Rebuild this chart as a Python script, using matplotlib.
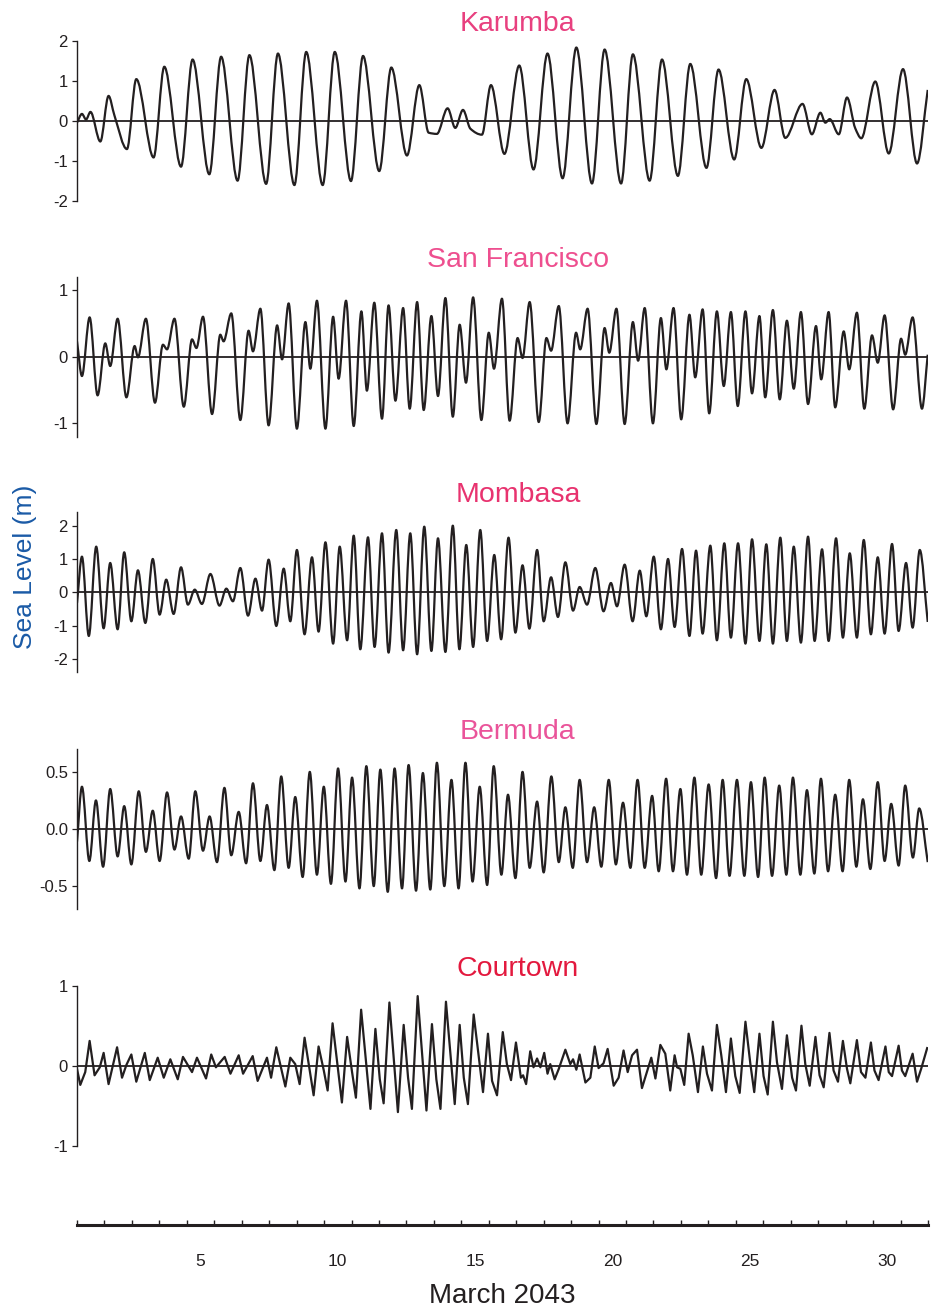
import numpy as np
import matplotlib
matplotlib.use("Agg")
import matplotlib.pyplot as plt
from matplotlib.path import Path
from matplotlib.patches import PathPatch

plt.rcParams['font.family'] = ['Liberation Sans', 'DejaVu Sans']

# ---------------- data (time in days since 1 March 2043 00:00, height in m) ----------------
stations = ["Karumba", "San Francisco", "Mombasa", "Bermuda", "Courtown"]
title_colors = ["#e8407f", "#ee4f8f", "#e8336f", "#ea549a", "#e3193e"]

karumba_t = [0.00, 0.18, 0.33, 0.49, 0.85, 1.15, 1.36, 1.82, 2.16, 2.79,
             3.18, 3.79, 4.21, 4.82, 5.25, 5.85, 6.28, 6.89, 7.32, 7.92,
             8.35, 8.95, 9.39, 9.98, 10.42, 11.01, 11.45, 12.02, 12.47, 12.81,
             13.11, 13.50, 13.78, 14.06, 14.33, 14.75, 15.08, 15.57, 16.11, 16.63,
             17.14, 17.69, 18.19, 18.76, 19.22, 19.82, 20.25, 20.86, 21.31, 21.89,
             22.34, 22.93, 23.37, 23.94, 24.38, 24.93, 25.41, 25.80, 26.43, 26.77,
             27.08, 27.26, 27.42, 27.75, 28.05, 28.35, 28.57, 29.08, 29.57, 30.09,
             30.60, 30.99]
karumba_h = [-0.05, 0.17, 0.03, 0.22, -0.52, 0.62, 0.14, -0.71, 1.04, -0.92,
             1.35, -1.15, 1.53, -1.34, 1.60, -1.50, 1.64, -1.58, 1.68, -1.61,
             1.72, -1.61, 1.72, -1.51, 1.62, -1.26, 1.33, -0.87, 0.89, -0.30,
             -0.33, 0.31, -0.18, 0.27, -0.20, -0.35, 0.89, -0.83, 1.38, -1.22,
             1.68, -1.44, 1.83, -1.57, 1.78, -1.57, 1.66, -1.50, 1.53, -1.38,
             1.42, -1.18, 1.28, -0.97, 1.04, -0.68, 0.77, -0.43, 0.42, -0.34,
             0.20, -0.05, 0.04, -0.34, 0.58, -0.19, -0.44, 0.98, -0.82, 1.29,
             -1.07, 0.77]

sf_t = [0.00, 0.18, 0.46, 0.75, 1.03, 1.21, 1.48, 1.80, 2.10, 2.22,
        2.51, 2.84, 3.13, 3.28, 3.55, 3.89, 4.19, 4.35, 4.59, 4.92,
        5.22, 5.34, 5.62, 5.95, 6.25, 6.41, 6.68, 6.98, 7.29, 7.47,
        7.71, 8.01, 8.32, 8.50, 8.74, 9.05, 9.33, 9.53, 9.80, 10.08,
        10.36, 10.56, 10.83, 11.11, 11.35, 11.60, 11.88, 12.12, 12.39, 12.63,
        12.91, 13.15, 13.42, 13.69, 13.94, 14.17, 14.43, 14.73, 15.00, 15.19,
        15.48, 15.76, 16.05, 16.23, 16.49, 16.82, 17.10, 17.27, 17.55, 17.87,
        18.18, 18.33, 18.60, 18.92, 19.22, 19.39, 19.65, 19.95, 20.25, 20.44,
        20.68, 20.98, 21.27, 21.47, 21.73, 22.01, 22.31, 22.52, 22.79, 23.03,
        23.31, 23.56, 23.82, 24.07, 24.35, 24.59, 24.86, 25.07, 25.35, 25.60,
        25.86, 26.11, 26.37, 26.63, 26.92, 27.11, 27.38, 27.62, 27.93, 28.13,
        28.41, 28.68, 28.96, 29.17, 29.42, 29.73, 30.02, 30.17, 30.44, 30.78,
        30.99]
sf_h = [0.23, -0.29, 0.59, -0.58, 0.20, -0.14, 0.57, -0.61, 0.16, -0.01,
        0.57, -0.69, 0.18, 0.11, 0.57, -0.75, 0.26, 0.13, 0.60, -0.86,
        0.33, 0.23, 0.65, -0.95, 0.39, 0.08, 0.72, -1.03, 0.47, -0.04,
        0.80, -1.08, 0.52, -0.18, 0.84, -1.08, 0.60, -0.33, 0.84, -1.04,
        0.68, -0.51, 0.81, -0.93, 0.77, -0.66, 0.73, -0.78, 0.82, -0.80,
        0.61, -0.59, 0.88, -0.90, 0.48, -0.39, 0.89, -0.95, 0.36, -0.18,
        0.87, -0.96, 0.28, -0.02, 0.82, -0.98, 0.28, 0.09, 0.76, -1.00,
        0.36, 0.11, 0.72, -1.01, 0.43, 0.06, 0.72, -1.01, 0.52, -0.06,
        0.73, -1.00, 0.58, -0.19, 0.73, -0.94, 0.63, -0.31, 0.71, -0.85,
        0.68, -0.44, 0.67, -0.74, 0.68, -0.55, 0.61, -0.61, 0.70, -0.64,
        0.54, -0.48, 0.67, -0.71, 0.46, -0.34, 0.67, -0.76, 0.38, -0.19,
        0.66, -0.78, 0.32, -0.09, 0.62, -0.79, 0.27, 0.03, 0.59, -0.78,
        0.03]

mombasa_t = [0.00, 0.18, 0.43, 0.70, 0.97, 1.21, 1.48, 1.72, 1.98, 2.22,
             2.49, 2.76, 3.01, 3.25, 3.52, 3.79, 4.04, 4.29, 4.55, 4.86,
             5.19, 5.44, 5.68, 5.95, 6.23, 6.50, 6.74, 6.98, 7.26, 7.53,
             7.77, 8.01, 8.29, 8.56, 8.80, 9.05, 9.33, 9.57, 9.84, 10.08,
             10.32, 10.60, 10.84, 11.11, 11.35, 11.63, 11.88, 12.14, 12.39, 12.65,
             12.91, 13.15, 13.42, 13.69, 13.93, 14.18, 14.43, 14.69, 14.94, 15.20,
             15.45, 15.72, 15.97, 16.23, 16.48, 16.76, 17.00, 17.27, 17.52, 17.79,
             18.07, 18.31, 18.58, 18.88, 19.18, 19.45, 19.67, 19.95, 20.24, 20.50,
             20.74, 21.01, 21.27, 21.53, 21.77, 22.04, 22.31, 22.55, 22.79, 23.07,
             23.31, 23.58, 23.82, 24.08, 24.35, 24.59, 24.86, 25.11, 25.35, 25.62,
             25.86, 26.11, 26.37, 26.63, 26.87, 27.14, 27.38, 27.65, 27.90, 28.15,
             28.41, 28.66, 28.92, 29.17, 29.42, 29.69, 29.93, 30.20, 30.44, 30.70,
             30.99]
mombasa_h = [-0.32, 1.07, -1.31, 1.37, -1.08, 0.88, -1.11, 1.20, -0.87, 0.66,
             -0.92, 1.00, -0.67, 0.38, -0.65, 0.75, -0.37, 0.08, -0.35, 0.55,
             -0.40, 0.11, -0.27, 0.73, -0.70, 0.41, -0.55, 0.98, -1.01, 0.71,
             -0.87, 1.27, -1.26, 1.05, -1.18, 1.50, -1.54, 1.37, -1.44, 1.70,
             -1.71, 1.65, -1.64, 1.77, -1.81, 1.87, -1.74, 1.77, -1.86, 1.97,
             -1.76, 1.62, -1.79, 2.00, -1.71, 1.42, -1.64, 1.87, -1.46, 1.12,
             -1.41, 1.64, -1.21, 0.81, -1.09, 1.27, -0.87, 0.45, -0.74, 0.90,
             -0.55, 0.16, -0.37, 0.73, -0.57, 0.28, -0.42, 0.83, -0.87, 0.65,
             -0.72, 1.07, -1.11, 1.00, -1.04, 1.30, -1.31, 1.25, -1.24, 1.40,
             -1.44, 1.47, -1.36, 1.47, -1.54, 1.59, -1.46, 1.44, -1.54, 1.64,
             -1.46, 1.37, -1.51, 1.67, -1.46, 1.29, -1.46, 1.62, -1.36, 1.17,
             -1.36, 1.57, -1.26, 1.05, -1.24, 1.45, -1.16, 0.88, -1.06, 1.27,
             -0.89]

bermuda_t = [0.00, 0.18, 0.45, 0.69, 0.95, 1.21, 1.48, 1.72, 1.98, 2.25,
             2.51, 2.76, 3.01, 3.28, 3.55, 3.79, 4.07, 4.31, 4.59, 4.83,
             5.10, 5.37, 5.62, 5.89, 6.16, 6.41, 6.68, 6.92, 7.19, 7.44,
             7.71, 7.95, 8.22, 8.48, 8.74, 8.99, 9.25, 9.51, 9.78, 10.02,
             10.29, 10.54, 10.81, 11.05, 11.32, 11.57, 11.84, 12.08, 12.35, 12.60,
             12.87, 13.11, 13.38, 13.64, 13.90, 14.15, 14.41, 14.67, 14.94, 15.18,
             15.46, 15.70, 15.97, 16.23, 16.49, 16.76, 17.00, 17.28, 17.55, 17.79,
             18.06, 18.31, 18.58, 18.84, 19.10, 19.37, 19.63, 19.89, 20.16, 20.42,
             20.68, 20.95, 21.19, 21.46, 21.71, 21.98, 22.22, 22.49, 22.74, 23.01,
             23.28, 23.52, 23.77, 24.04, 24.31, 24.55, 24.81, 25.05, 25.32, 25.58,
             25.84, 26.08, 26.35, 26.59, 26.86, 27.10, 27.36, 27.62, 27.89, 28.13,
             28.39, 28.63, 28.90, 29.17, 29.42, 29.66, 29.93, 30.17, 30.45, 30.68,
             30.99]
bermuda_h = [-0.11, 0.37, -0.28, 0.25, -0.33, 0.35, -0.24, 0.20, -0.31, 0.33,
             -0.20, 0.16, -0.28, 0.32, -0.18, 0.11, -0.26, 0.33, -0.19, 0.11,
             -0.29, 0.36, -0.23, 0.15, -0.30, 0.40, -0.28, 0.21, -0.36, 0.46,
             -0.34, 0.28, -0.42, 0.50, -0.40, 0.37, -0.48, 0.53, -0.46, 0.45,
             -0.52, 0.55, -0.50, 0.52, -0.55, 0.53, -0.52, 0.56, -0.54, 0.49,
             -0.53, 0.58, -0.50, 0.43, -0.52, 0.58, -0.46, 0.37, -0.49, 0.55,
             -0.40, 0.30, -0.43, 0.50, -0.34, 0.24, -0.38, 0.46, -0.29, 0.19,
             -0.34, 0.43, -0.29, 0.19, -0.33, 0.43, -0.31, 0.23, -0.34, 0.43,
             -0.34, 0.29, -0.37, 0.44, -0.37, 0.35, -0.40, 0.45, -0.40, 0.39,
             -0.43, 0.43, -0.41, 0.43, -0.41, 0.41, -0.42, 0.45, -0.41, 0.38,
             -0.40, 0.45, -0.40, 0.34, -0.39, 0.44, -0.37, 0.30, -0.37, 0.43,
             -0.33, 0.26, -0.35, 0.41, -0.28, 0.22, -0.32, 0.38, -0.25, 0.18,
             -0.29]

courtown_t = [0.00, 0.12, 0.30, 0.46, 0.64, 0.83, 0.97, 1.15, 1.46, 1.64,
              1.80, 1.98, 2.16, 2.47, 2.65, 2.94, 3.16, 3.40, 3.67, 3.86,
              4.19, 4.37, 4.70, 4.89, 5.06, 5.38, 5.59, 5.89, 6.05, 6.40,
              6.58, 6.92, 7.07, 7.26, 7.59, 7.77, 7.95, 8.11, 8.29, 8.62,
              8.80, 8.99, 9.13, 9.31, 9.65, 9.84, 10.02, 10.16, 10.35, 10.69,
              10.87, 11.03, 11.17, 11.38, 11.69, 11.90, 12.06, 12.20, 12.41, 12.73,
              12.93, 13.09, 13.24, 13.44, 13.76, 13.94, 14.09, 14.24, 14.45, 14.79,
              14.97, 15.12, 15.30, 15.51, 15.66, 15.81, 15.99, 16.17, 16.25, 16.36,
              16.51, 16.63, 16.76, 16.88, 17.02, 17.14, 17.24, 17.40, 17.55, 17.79,
              17.97, 18.07, 18.19, 18.31, 18.52, 18.70, 18.86, 19.00, 19.18, 19.33,
              19.55, 19.73, 19.91, 20.06, 20.22, 20.40, 20.58, 20.92, 21.07, 21.25,
              21.43, 21.61, 21.77, 21.86, 21.98, 22.12, 22.28, 22.43, 22.62, 22.80,
              22.95, 23.13, 23.31, 23.47, 23.64, 23.82, 23.98, 24.14, 24.35, 24.53,
              24.67, 24.86, 25.01, 25.16, 25.35, 25.50, 25.68, 25.86, 26.05, 26.19,
              26.39, 26.53, 26.69, 26.90, 27.05, 27.20, 27.41, 27.56, 27.72, 27.90,
              28.05, 28.17, 28.41, 28.56, 28.72, 28.92, 29.05, 29.20, 29.45, 29.57,
              29.69, 29.93, 30.05, 30.17, 30.44, 30.60, 30.75, 30.97]
courtown_h = [-0.04, -0.24, -0.08, 0.31, -0.12, -0.02, 0.16, -0.23, 0.23, -0.15,
              0.01, 0.14, -0.20, 0.16, -0.18, 0.10, -0.15, 0.08, -0.17, 0.11,
              -0.08, 0.10, -0.16, 0.14, -0.02, 0.11, -0.10, 0.13, -0.10, 0.12,
              -0.19, 0.10, -0.15, 0.23, -0.26, 0.10, 0.02, -0.23, 0.35, -0.37,
              0.24, -0.06, -0.31, 0.53, -0.46, 0.36, -0.08, -0.40, 0.70, -0.54,
              0.46, -0.17, -0.47, 0.79, -0.58, 0.51, -0.15, -0.54, 0.87, -0.56,
              0.52, -0.17, -0.54, 0.80, -0.48, 0.51, -0.15, -0.48, 0.64, -0.33,
              0.40, -0.19, -0.37, 0.42, 0.02, -0.18, 0.29, -0.15, -0.12, -0.23,
              0.18, -0.02, 0.09, -0.02, 0.16, -0.10, 0.02, -0.17, -0.04, 0.20,
              0.02, 0.08, -0.05, 0.14, -0.21, -0.15, 0.24, -0.03, 0.03, 0.21,
              -0.25, -0.15, 0.19, -0.08, 0.13, 0.20, -0.28, 0.10, -0.16, 0.26,
              0.15, -0.31, 0.13, -0.02, -0.04, -0.24, 0.40, 0.13, -0.33, 0.24,
              -0.10, -0.31, 0.51, 0.13, -0.33, 0.34, -0.13, -0.34, 0.55, 0.02,
              -0.33, 0.40, -0.13, -0.36, 0.55, 0.04, -0.29, 0.38, -0.15, -0.31,
              0.50, 0.02, -0.25, 0.36, -0.12, -0.27, 0.41, -0.06, -0.20, 0.31,
              -0.04, -0.22, 0.32, -0.08, -0.15, 0.29, -0.06, -0.18, 0.24, -0.08,
              -0.13, 0.25, -0.06, -0.13, 0.15, -0.20, -0.04, 0.22]

series_t = [karumba_t, sf_t, mombasa_t, bermuda_t, courtown_t]
series_h = [karumba_h, sf_h, mombasa_h, bermuda_h, courtown_h]
smooth = [True, True, True, True, False]
ylims = [2.0, 1.2, 2.4, 0.7, 1.0]
yticks = [[-2, -1, 0, 1, 2], [-1, 0, 1], [-2, -1, 0, 1, 2], [-0.5, 0.0, 0.5], [-1, 0, 1]]
ytick_labels = [["-2", "-1", "0", "1", "2"], ["-1", "0", "1"], ["-2", "-1", "0", "1", "2"],
                ["-0.5", "0.0", "0.5"], ["-1", "0", "1"]]
day_labels = ["5", "10", "15", "20", "25", "30"]
day_label_pos = [4.5, 9.5, 14.5, 19.5, 24.5, 29.5]
n_days = 31

# ---------------- drawing ----------------
W, H = 933, 1314
fig = plt.figure(figsize=(W / 100, H / 100), dpi=100)
ink = "#231f20"

left_px, right_px = 77, 928
tops_px = [40.7, 276.7, 512.3, 749.0, 985.7]
h_px = 160.0


def hermite_path(t, h):
    t = np.asarray(t, float)
    h = np.asarray(h, float)
    dt = np.diff(t)
    d = np.diff(h) / dt
    m = np.zeros_like(h)
    for i in range(1, len(h) - 1):
        if d[i - 1] * d[i] > 0:
            w1 = 2 * dt[i] + dt[i - 1]
            w2 = dt[i] + 2 * dt[i - 1]
            m[i] = (w1 + w2) / (w1 / d[i - 1] + w2 / d[i])
    m[0] = d[0]
    m[-1] = d[-1]
    verts = [(t[0], h[0])]
    codes = [Path.MOVETO]
    for i in range(len(dt)):
        verts += [(t[i] + dt[i] / 3, h[i] + m[i] * dt[i] / 3),
                  (t[i + 1] - dt[i] / 3, h[i + 1] - m[i + 1] * dt[i] / 3),
                  (t[i + 1], h[i + 1])]
        codes += [Path.CURVE4] * 3
    return Path(verts, codes)


for k in range(5):
    ax = fig.add_axes([left_px / W, 1 - (tops_px[k] + h_px) / H,
                       (right_px - left_px) / W, h_px / H])
    ax.set_xlim(0, n_days)
    ax.set_ylim(-ylims[k], ylims[k])
    for s in ["top", "right", "bottom"]:
        ax.spines[s].set_visible(False)
    ax.spines["left"].set_linewidth(1.0)
    ax.spines["left"].set_color(ink)
    ax.set_xticks([])
    ax.set_yticks(yticks[k])
    ax.set_yticklabels(ytick_labels[k])
    ax.tick_params(axis="y", direction="out", length=3.5, width=0.9,
                   labelsize=12, colors=ink, pad=3)
    ax.axhline(0, color=ink, lw=1.3, zorder=2)
    if smooth[k]:
        ax.add_patch(PathPatch(hermite_path(series_t[k], series_h[k]),
                               facecolor="none", edgecolor=ink, lw=1.6,
                               joinstyle="round", zorder=3))
    else:
        ax.plot(series_t[k], series_h[k], color=ink, lw=1.6,
                solid_joinstyle="round", zorder=3)
    ax.text(0.518, 1.106, stations[k], transform=ax.transAxes, ha="center",
            va="center", fontsize=20.5, color=title_colors[k])
    ax.patch.set_alpha(0)

# bottom time axis
axb = fig.add_axes([left_px / W, 1 - 1225 / H, (right_px - left_px) / W, 10 / H])
axb.set_xlim(0, n_days)
axb.set_yticks([])
for s in ["top", "right", "left"]:
    axb.spines[s].set_visible(False)
axb.spines["bottom"].set_linewidth(2.2)
axb.spines["bottom"].set_color(ink)
axb.set_xticks(range(0, n_days + 1))
axb.set_xticklabels([])
axb.tick_params(axis="x", which="major", direction="in", length=3.5, width=1.0, colors=ink)
axb.set_xticks(day_label_pos, minor=True)
axb.set_xticklabels(day_labels, minor=True)
axb.tick_params(axis="x", which="minor", length=0, pad=21, labelsize=12.5, colors=ink)
axb.patch.set_alpha(0)

fig.text((left_px + right_px) / 2 / W, 1 - 1296 / H, "March 2043", ha="center",
         va="center", fontsize=20, color=ink)
fig.text(25 / W, 1 - 567 / H, "Sea Level (m)", rotation=90, ha="center",
         va="center", fontsize=19, color="#1a5aa6")

fig.savefig("out.png", dpi=100)
